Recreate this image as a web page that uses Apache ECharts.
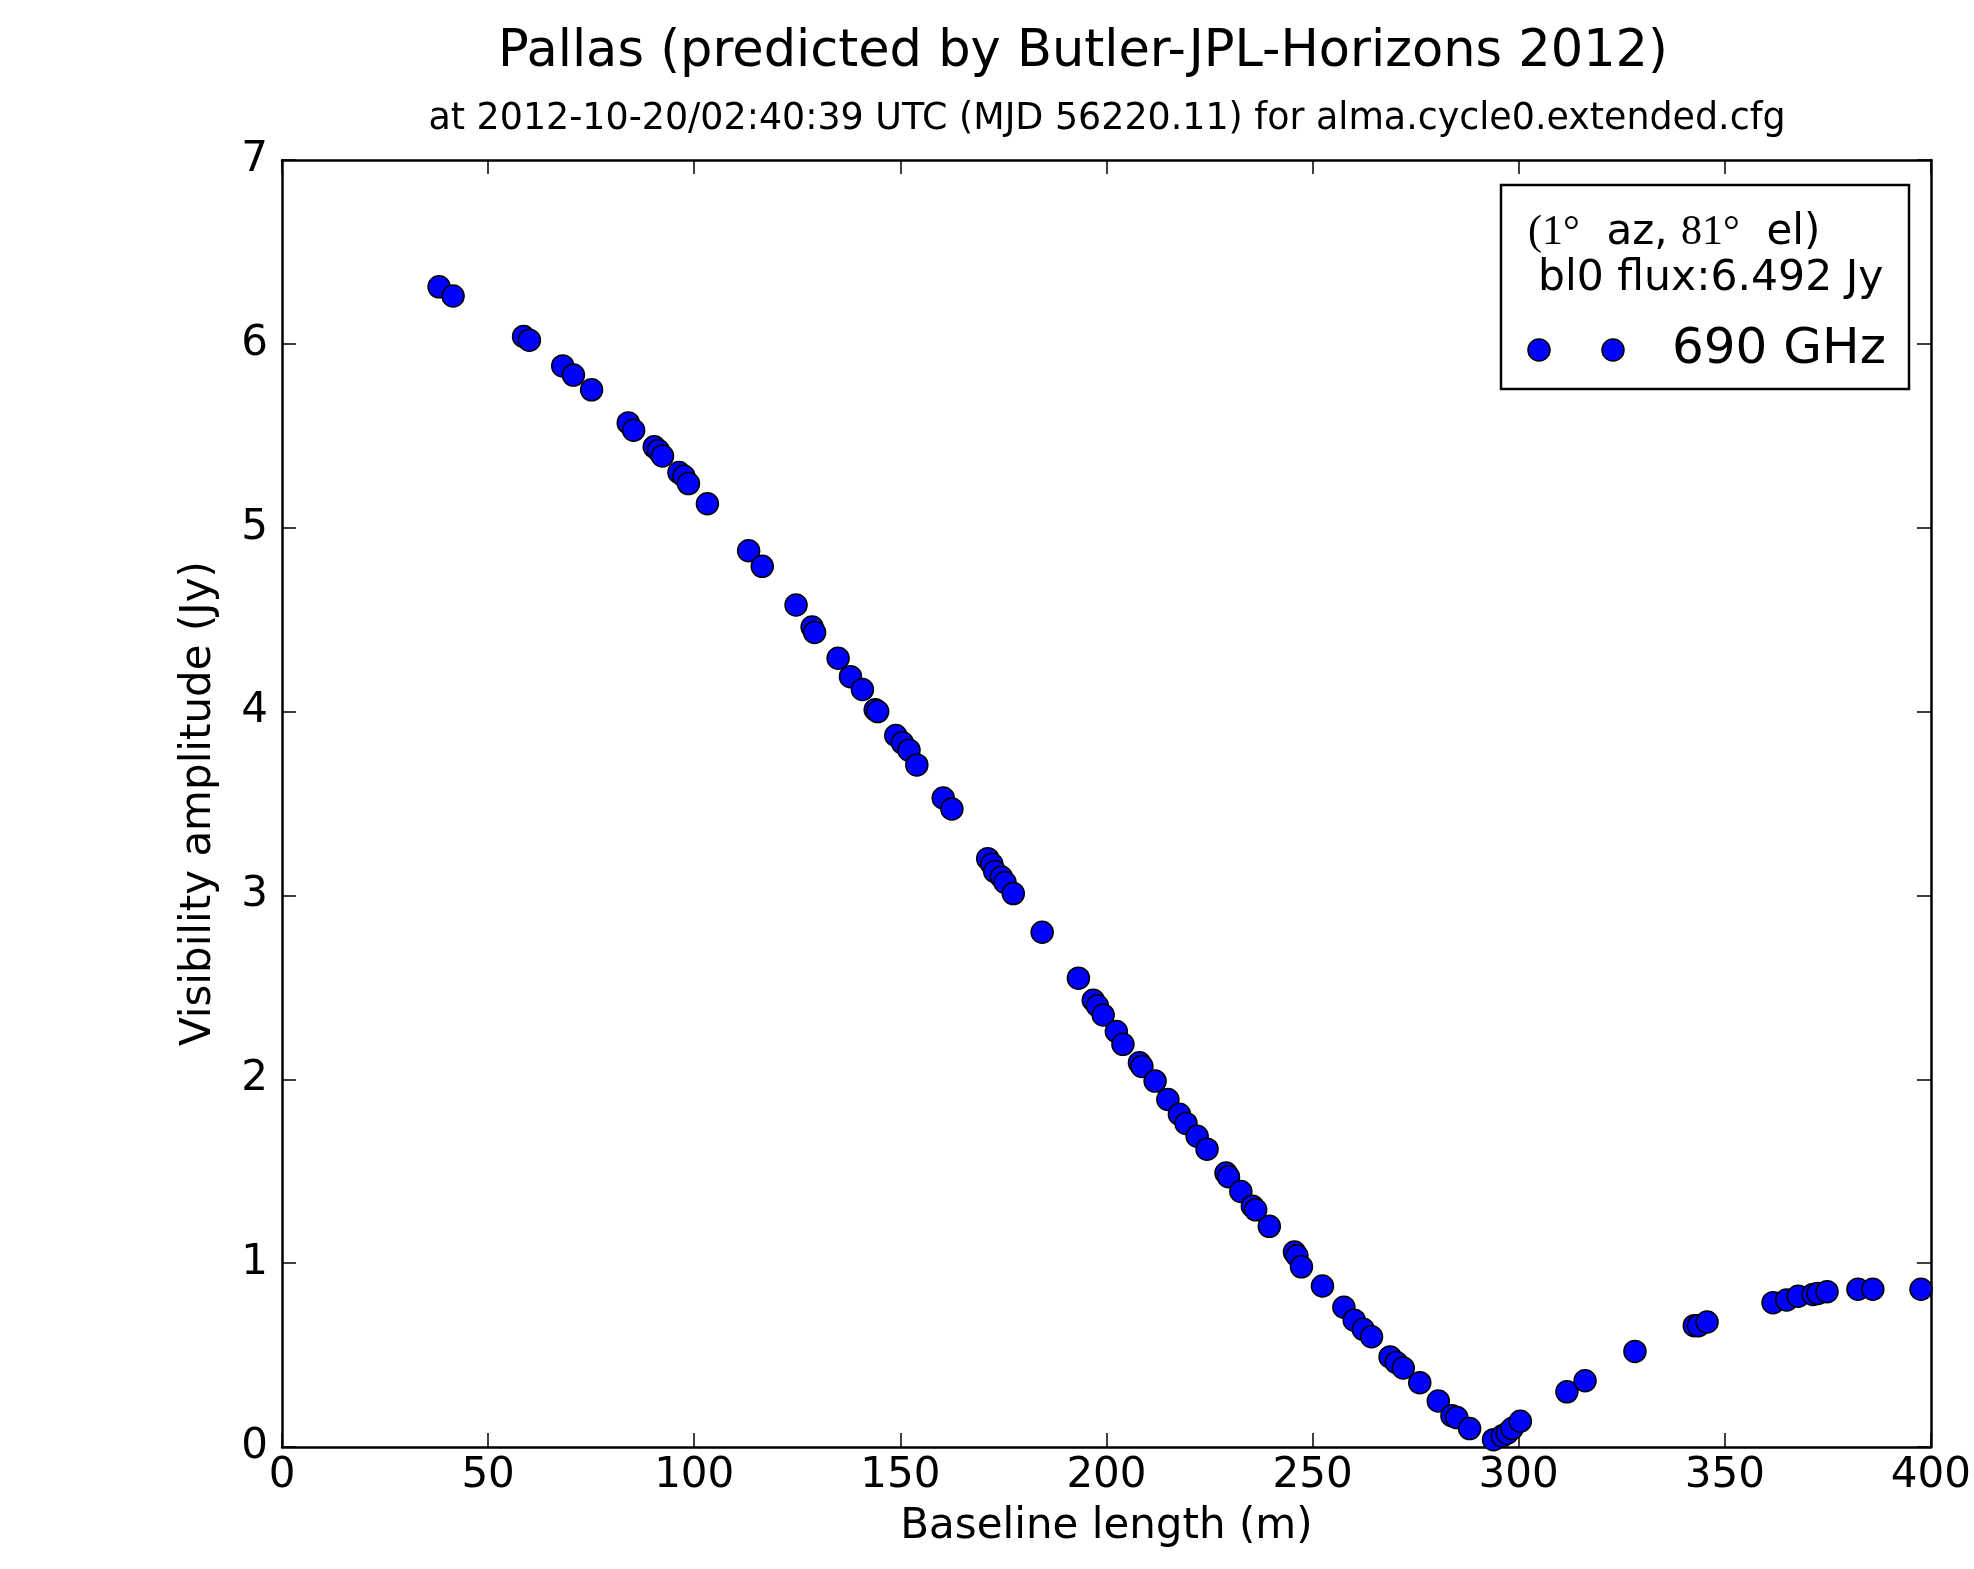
<!DOCTYPE html>
<html>
<head>
<meta charset="utf-8">
<script src="https://cdn.jsdelivr.net/npm/echarts@6/dist/echarts.min.js"></script>
<style>
html,body{margin:0;padding:0;background:#fff;}
#chart{width:1974px;height:1569px;}
</style>
</head>
<body>
<div id="chart"></div>
<script>
// ---- data ----
var baseline = [38.1,41.5,58.6,60.0,68.1,70.7,75.1,84.0,85.3,90.3,91.3,92.3,96.3,97.5,98.6,103.2,
  113.2,116.5,124.7,128.6,129.2,134.9,137.9,140.8,143.9,144.5,148.9,150.5,152.1,154.0,160.4,162.5,
  171.2,172.2,172.9,174.5,175.4,177.4,184.4,193.2,196.8,197.8,199.2,202.4,204.0,208.0,208.6,211.8,
  214.9,217.7,219.3,222.0,224.4,229.0,229.6,232.6,235.4,236.2,239.5,245.6,246.2,247.3,252.4,257.6,
  260.1,262.3,264.3,268.8,270.3,272.0,276.0,280.5,283.8,285.0,288.1,293.9,296.0,297.2,298.4,300.4,
  311.7,316.1,328.2,342.6,343.6,345.7,361.7,365.0,367.8,371.4,372.6,374.8,382.3,385.9,397.6];
var amplitude = [6.31,6.26,6.04,6.02,5.88,5.83,5.75,5.57,5.53,5.44,5.42,5.39,5.30,5.28,5.24,5.13,
  4.875,4.79,4.58,4.46,4.43,4.29,4.19,4.12,4.01,4.00,3.87,3.83,3.79,3.71,3.53,3.47,
  3.20,3.17,3.13,3.10,3.07,3.01,2.80,2.55,2.43,2.40,2.35,2.26,2.19,2.09,2.07,1.99,
  1.89,1.81,1.76,1.69,1.62,1.49,1.47,1.39,1.31,1.29,1.20,1.06,1.04,0.98,0.876,0.76,
  0.69,0.64,0.60,0.49,0.46,0.43,0.35,0.25,0.17,0.16,0.10,0.04,0.06,0.075,0.10,0.14,
  0.30,0.36,0.52,0.66,0.66,0.68,0.785,0.80,0.82,0.83,0.835,0.845,0.858,0.858,0.858];
var xTicks = [0,50,100,150,200,250,300,350,400];
var yTicks = [0,1,2,3,4,5,6,7];
var seriesName = '690 GHz';
var titleText = 'Pallas (predicted by Butler-JPL-Horizons 2012)';
var subtitleText = 'at 2012-10-20/02:40:39 UTC (MJD 56220.11) for alma.cycle0.extended.cfg';
var xLabel = 'Baseline length (m)';
var yLabel = 'Visibility amplitude (Jy)';

var points = baseline.map(function(b,i){return [b, amplitude[i]];});
var FONT = "'DejaVu Sans', sans-serif";
var SERIF = "'Liberation Serif', 'DejaVu Serif', serif";

var chart = echarts.init(document.getElementById('chart'), null, {renderer:'canvas'});

function axisCommon(extra){
  var o = {
    axisLine:{show:true,onZero:false,lineStyle:{color:'#000',width:2.5}},
    axisTick:{show:true,inside:true,length:14,lineStyle:{color:'#000',width:1.5}},
    splitLine:{show:false}
  };
  for (var k in extra) o[k]=extra[k];
  return o;
}

var option = {
  backgroundColor:'#fff',
  animation:false,
  grid:{left:282,right:39,top:160,bottom:122,containLabel:false},
  xAxis:[
    axisCommon({type:'value',position:'bottom',min:xTicks[0],max:xTicks[xTicks.length-1],interval:xTicks[1]-xTicks[0],
      name:xLabel,nameLocation:'middle',nameGap:59,
      nameTextStyle:{fontFamily:FONT,fontSize:42,color:'#000'},
      axisLabel:{show:true,margin:8,fontFamily:FONT,fontSize:42,color:'#000'}}),
    axisCommon({type:'value',position:'top',min:xTicks[0],max:xTicks[xTicks.length-1],interval:xTicks[1]-xTicks[0],
      axisLabel:{show:false}})
  ],
  yAxis:[
    axisCommon({type:'value',position:'left',min:yTicks[0],max:yTicks[yTicks.length-1],interval:yTicks[1]-yTicks[0],
      name:yLabel,nameLocation:'middle',nameGap:62,
      nameTextStyle:{fontFamily:FONT,fontSize:42,color:'#000'},
      axisLabel:{show:true,margin:14,fontFamily:FONT,fontSize:42,color:'#000'}}),
    axisCommon({type:'value',position:'right',min:yTicks[0],max:yTicks[yTicks.length-1],interval:yTicks[1]-yTicks[0],
      axisLabel:{show:false}})
  ],
  series:[{
    name:seriesName,
    type:'scatter',
    xAxisIndex:0,yAxisIndex:0,
    data:points,
    symbol:'circle',
    symbolSize:22,
    clip:true,
    itemStyle:{color:'#0000ff',borderColor:'#000',borderWidth:1.5,opacity:1}
  }],
  graphic:[
    {type:'text',x:1083,y:53,style:{text:titleText,font:'51px '+FONT,fill:'#000',textAlign:'center',textVerticalAlign:'middle'}},
    {type:'text',x:1107,y:120,style:{text:subtitleText,font:'36.4px '+FONT,fill:'#000',textAlign:'center',textVerticalAlign:'middle'}},
    {type:'group',x:1501,y:185,z:100,children:[
      {type:'rect',shape:{x:0,y:0,width:408,height:204},style:{fill:'#fff',stroke:'#000',lineWidth:2.5},z:100},
      {type:'text',x:27,y:48,z:101,style:{
        text:'{s|(1°}{n|  az, }{s|81°}{n|  el)}',
        rich:{s:{fontFamily:SERIF,fontSize:42,fill:'#000'},n:{fontFamily:FONT,fontSize:42,fill:'#000'}},
        textVerticalAlign:'middle',textAlign:'left'}},
      {type:'text',x:37,y:94,z:101,style:{text:'bl0 flux:6.492 Jy',font:'42.5px '+FONT,fill:'#000',textVerticalAlign:'middle',textAlign:'left'}},
      {type:'circle',z:101,shape:{cx:38,cy:165,r:11},style:{fill:'#0000ff',stroke:'#000',lineWidth:1.5}},
      {type:'circle',z:101,shape:{cx:112,cy:165,r:11},style:{fill:'#0000ff',stroke:'#000',lineWidth:1.5}},
      {type:'text',x:171,y:165,z:101,style:{text:seriesName,font:'50px '+FONT,fill:'#000',textVerticalAlign:'middle',textAlign:'left'}}
    ]}
  ]
};
chart.setOption(option);
</script>
</body>
</html>
